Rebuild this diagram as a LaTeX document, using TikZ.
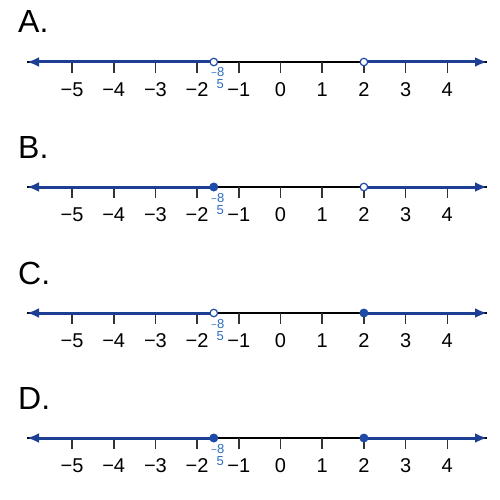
\documentclass[tikz,border=0pt]{standalone}
\usepackage{fontspec}
\setmainfont{Liberation Sans}
\usetikzlibrary{arrows.meta}
\definecolor{rayblue}{HTML}{1C3F94}
\definecolor{dotblue}{HTML}{1E4BA8}
\definecolor{fracblue}{HTML}{2D6CC0}
\definecolor{tickgray}{HTML}{333333}
\tikzset{
  axisline/.style={line width=1.7pt, black},
  ray/.style={line width=3pt, rayblue, -{Latex[length=12pt,width=10pt]}},
  tickmark/.style={line width=1.6pt, tickgray},
  numlabel/.style={font=\fontsize{20}{20}\selectfont, anchor=base, inner sep=0pt},
  letterlabel/.style={font=\fontsize{32}{32}\selectfont, anchor=base west, inner sep=0pt},
  fraclabel/.style={font=\fontsize{13}{13}\selectfont, text=fracblue, anchor=base, inner sep=0pt},
  opendot/.style={circle, draw=dotblue, fill=white, line width=1.2pt, minimum size=7.5pt, inner sep=0pt},
  closeddot/.style={circle, fill=dotblue, minimum size=9pt, inner sep=0pt},
}
\begin{document}
\begin{tikzpicture}[x=1pt,y=-1pt]
\useasboundingbox (0,0) rectangle (500,500);
\def\ux{41.7}
\def\ox{280.5}
\foreach \L/\Y/\lf/\rf [count=\i] in {A/62/opendot/opendot, B/187/closeddot/opendot, C/313/opendot/closeddot, D/438/closeddot/closeddot}{
  \node[letterlabel] (lab\i) at (18,\Y-29) {\L.};
  \coordinate (le\i) at (27,\Y);
  \coordinate (re\i) at (487,\Y);
  \coordinate (p\i) at (\ox-1.6*\ux,\Y);
  \coordinate (q\i) at (\ox+2*\ux,\Y);
  \draw[axisline] (le\i) -- (re\i);
  \foreach \n in {-5,...,4}{
    \coordinate (t\i\n) at (\ox+\n*\ux,\Y);
    \draw[tickmark] (t\i\n) -- ++(0,11);
    \ifnum\n<0
      \node[numlabel] (n\i\n) at (\ox+\n*\ux,\Y+34.5) {−\the\numexpr-\n\relax};
    \else
      \node[numlabel] (n\i\n) at (\ox+\n*\ux,\Y+34.5) {\n};
    \fi
  }
  \draw[ray] (p\i) -- (le\i);
  \draw[ray] (q\i) -- (re\i);
  \node[\lf] (dl\i) at (p\i) {};
  \node[\rf] (dr\i) at (q\i) {};
  \node[fraclabel] (fn\i) at (\ox-1.6*\ux+4,\Y+15) {\fontsize{10}{10}\selectfont−\fontsize{13}{13}\selectfont 8};
  \node[fraclabel] (fd\i) at (\ox-1.6*\ux+6.5,\Y+27) {5};
}
\end{tikzpicture}
\end{document}
